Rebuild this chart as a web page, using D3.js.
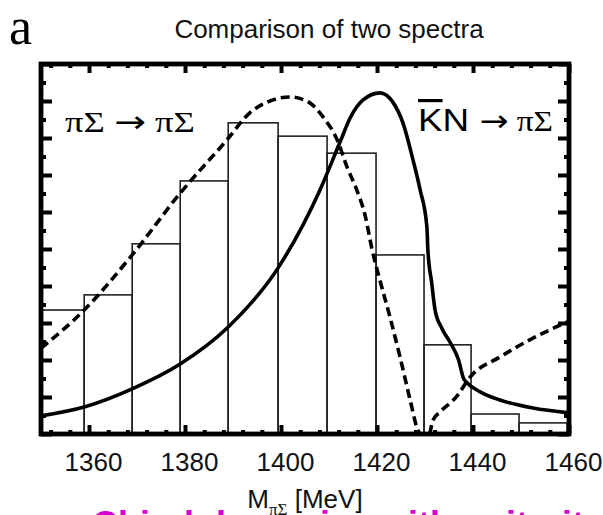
<html>
<head>
<script src="https://d3js.org/d3.v7.min.js"></script>
<style>
body { margin: 0; background: #fff; }
svg { display: block; }
.tick text { font-family: 'Liberation Sans', Arial, sans-serif; }
</style>
</head>
<body>
<div id="chart"></div>
<script>
  // histogram: bin edges (MeV) and heights (arb. units)
  var binEdges = [1350, 1359, 1369, 1379, 1389, 1399.4, 1409.6, 1419.8, 1429.8, 1439.6, 1449.6, 1459.6];
  var binHeights = [3.35, 3.76, 5.14, 6.84, 8.41, 8.05, 7.59, 4.84, 2.41, 0.54, 0.30];

  // solid curve: KbarN -> piSigma
  var knMass  = [1350, 1359, 1369, 1379, 1389, 1399.4, 1408.1, 1412.3, 1414.4, 1417.1, 1420.6, 1423.3, 1425.4, 1427.5, 1429.0, 1430.4, 1430.6, 1431.4, 1432.1, 1433.5, 1435.3, 1437.0, 1438.0, 1438.8, 1441.5, 1445.6, 1452.5, 1460];
  var knValue = [0.49, 0.73, 1.22, 1.89, 2.89, 4.49, 6.59, 7.89, 8.54, 9.03, 9.22, 8.97, 8.41, 7.41, 6.59, 5.59, 4.97, 4.08, 3.35, 2.86, 2.46, 2.00, 1.51, 1.38, 1.14, 0.92, 0.70, 0.57];

  // dashed curve: piSigma -> piSigma (two branches)
  var psMass1  = [1350, 1359, 1369, 1379, 1388.75, 1393.5, 1397.1, 1401.9, 1406.0, 1408.75, 1411.7, 1413.75, 1415.8, 1417.5, 1419.0, 1420.6, 1422.7, 1424.8, 1426.9, 1428.5, 1429.0];
  var psValue1 = [2.32, 3.35, 4.84, 6.51, 7.95, 8.68, 8.97, 9.11, 8.95, 8.57, 7.95, 7.22, 6.59, 5.92, 4.97, 4.16, 3.16, 2.08, 0.92, 0.11, 0];
  var psMass2  = [1431.0, 1431.7, 1433.1, 1436.7, 1439.4, 1445.6, 1452.5, 1460];
  var psValue2 = [0, 0.38, 0.59, 1.03, 1.54, 2.08, 2.59, 3.05];

  var xMajor = [1360, 1380, 1400, 1420, 1440, 1460];
  var xMinor = d3.range(1352, 1460, 4).filter(function(v) { return (v - 1360) % 20 != 0; });
  var yMajor = d3.range(0, 11, 1);
  var yMinor = d3.range(0.5, 10, 1);

  var width = 603, height = 515;
  var plotLeft = 41, plotRight = 569, plotTop = 64, plotBottom = 434;

  var svg = d3.select("#chart").append("svg")
    .attr("width", width)
    .attr("height", height);

  var x = d3.scaleLinear().domain([1350, 1460]).range([plotLeft, plotRight]);
  var y = d3.scaleLinear().domain([0, 10]).range([plotBottom, plotTop]);

  svg.append("clipPath").attr("id", "plotclip")
    .append("rect")
    .attr("x", plotLeft).attr("y", plotTop)
    .attr("width", plotRight - plotLeft).attr("height", plotBottom - plotTop);

  var plot = svg.append("g").attr("clip-path", "url(#plotclip)");

  // histogram bars (outline only)
  plot.selectAll(".bar")
    .data(binHeights)
    .enter().append("rect")
      .attr("class", "bar")
      .attr("x", function(d, i) { return x(binEdges[i]); })
      .attr("y", function(d) { return y(d); })
      .attr("width", function(d, i) { return x(binEdges[i + 1]) - x(binEdges[i]); })
      .attr("height", function(d) { return y(0) - y(d); })
      .attr("fill", "none")
      .attr("stroke", "#222")
      .attr("stroke-width", 1.6);

  function pairs(xs, ys) {
    return xs.map(function(v, i) { return [v, ys[i]]; });
  }

  var line = d3.line()
    .x(function(d) { return x(d[0]); })
    .y(function(d) { return y(d[1]); })
    .curve(d3.curveMonotoneX);

  plot.append("path")
    .attr("d", line(pairs(knMass, knValue)))
    .attr("fill", "none")
    .attr("stroke", "#000")
    .attr("stroke-width", 3.6);

  [pairs(psMass1, psValue1), pairs(psMass2, psValue2)].forEach(function(p) {
    plot.append("path")
      .attr("d", line(p))
      .attr("fill", "none")
      .attr("stroke", "#000")
      .attr("stroke-width", 3.6)
      .attr("stroke-dasharray", "9,5");
  });

  // ticks on all four sides, pointing inward
  function ticks(axis, vals, size, transform) {
    var g = svg.append("g")
      .attr("transform", transform)
      .call(axis.tickValues(vals).tickSize(size).tickFormat(""));
    g.select(".domain").remove();
    g.selectAll(".tick line").attr("stroke", "#000").attr("stroke-width", 4);
    return g;
  }
  ticks(d3.axisBottom(x), xMajor, -9, "translate(0," + plotBottom + ")");
  ticks(d3.axisBottom(x), xMinor, -4, "translate(0," + plotBottom + ")");
  ticks(d3.axisTop(x), xMajor, -9, "translate(0," + plotTop + ")");
  ticks(d3.axisTop(x), xMinor, -4, "translate(0," + plotTop + ")");
  ticks(d3.axisLeft(y), yMajor, -11, "translate(" + plotLeft + ",0)");
  ticks(d3.axisLeft(y), yMinor, -5, "translate(" + plotLeft + ",0)");
  ticks(d3.axisRight(y), yMajor, -11, "translate(" + plotRight + ",0)");
  ticks(d3.axisRight(y), yMinor, -5, "translate(" + plotRight + ",0)");

  // tick labels
  var xl = svg.append("g")
    .attr("transform", "translate(0," + plotBottom + ")")
    .call(d3.axisBottom(x).tickValues(xMajor).tickSize(0).tickPadding(0).tickFormat(d3.format("d")));
  xl.select(".domain").remove();
  xl.selectAll(".tick text")
    .attr("x", 4)
    .attr("y", 37)
    .attr("dy", 0)
    .attr("font-size", 26)
    .attr("fill", "#111");

  // frame
  svg.append("rect")
    .attr("x", plotLeft).attr("y", plotTop)
    .attr("width", plotRight - plotLeft).attr("height", plotBottom - plotTop)
    .attr("fill", "none")
    .attr("stroke", "#000")
    .attr("stroke-width", 4.8);

  // curve labels
  var serif = "'Liberation Serif', 'Times New Roman', serif";
  var sans = "'Liberation Sans', Arial, sans-serif";

  var ps = svg.append("text").attr("x", 65).attr("y", 132).attr("font-size", 29)
    .attr("textLength", 130).attr("lengthAdjust", "spacingAndGlyphs");
  ps.append("tspan").attr("font-family", serif).text("\u03c0\u03a3 ");
  ps.append("tspan").attr("font-family", "'DejaVu Sans', sans-serif").attr("font-size", 30).text("\u2192");
  ps.append("tspan").attr("font-family", serif).text(" \u03c0\u03a3");

  var kn = svg.append("text").attr("x", 418).attr("y", 131)
    .attr("textLength", 135).attr("lengthAdjust", "spacingAndGlyphs");
  kn.append("tspan")
    .attr("font-family", sans)
    .attr("font-size", 32)
    .attr("text-decoration", "overline")
    .text("K");
  kn.append("tspan")
    .attr("font-family", sans)
    .attr("font-size", 32)
    .text("N ");
  kn.append("tspan")
    .attr("font-family", "'DejaVu Sans', sans-serif")
    .attr("font-size", 30)
    .text("\u2192");
  kn.append("tspan")
    .attr("font-family", serif)
    .attr("font-size", 29)
    .text(" \u03c0\u03a3");

  // title and panel letter
  svg.append("text")
    .attr("x", 329).attr("y", 38)
    .attr("text-anchor", "middle")
    .attr("font-family", sans)
    .attr("font-size", 26)
    .attr("fill", "#111")
    .text("Comparison of two spectra");

  svg.append("text")
    .attr("x", 9).attr("y", 44)
    .attr("font-family", serif)
    .attr("font-size", 52)
    .text("a");

  // x axis label
  var xt = svg.append("text")
    .attr("x", 305).attr("y", 508)
    .attr("text-anchor", "middle")
    .attr("font-family", sans)
    .attr("font-size", 26)
    .attr("fill", "#111");
  xt.append("tspan").text("M");
  xt.append("tspan")
    .attr("font-family", serif)
    .attr("font-size", 17)
    .attr("dy", 7)
    .text("\u03c0\u03a3");
  xt.append("tspan").attr("dy", -7).text(" [MeV]");

  // caption cut off at the bottom edge
  svg.append("text")
    .attr("x", 92).attr("y", 537)
    .attr("font-family", sans)
    .attr("font-size", 36)
    .attr("font-weight", "bold")
    .attr("fill", "#d600d0")
    .text("Chiral dynamics with unitarity");
</script>
</body>
</html>
